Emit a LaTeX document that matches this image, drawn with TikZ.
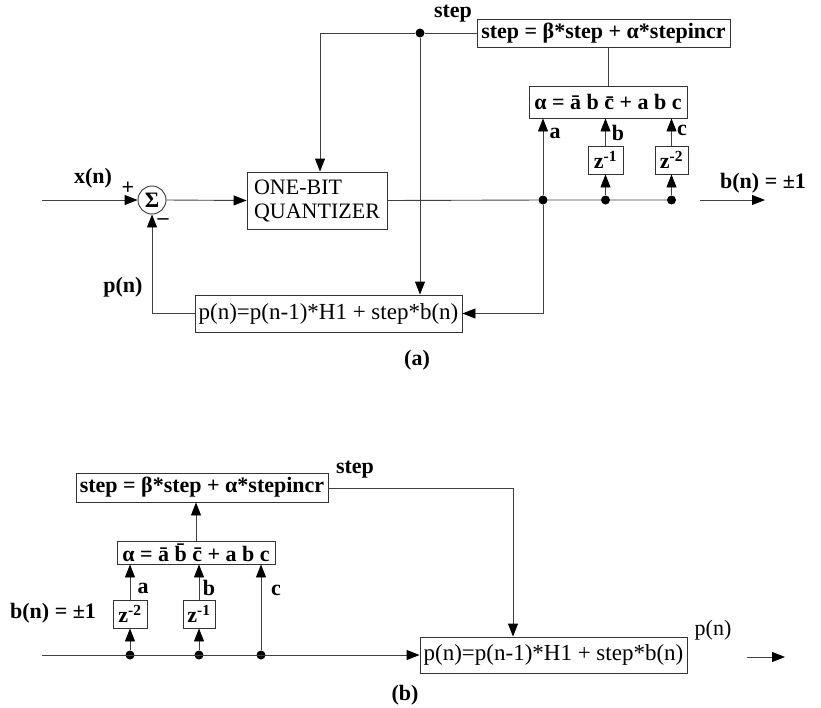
\documentclass[tikz,border=0pt]{standalone}
\usepackage{fontspec}
\setmainfont{Liberation Serif}
\usetikzlibrary{arrows.meta}
\newcommand{\fs}{\fontsize{22}{24}\selectfont}
\newcommand{\fsp}{\fontsize{23}{25}\selectfont}
\begin{document}
\begin{tikzpicture}[x=1pt,y=-1pt,
  line/.style={draw=black!75, line width=0.9pt},
  arr/.style={line, -{Triangle[length=13pt,width=10pt,color=black]}},
  blk/.style={draw=black!80, line width=0.9pt, inner sep=0pt},
  dot/.style={circle, fill=black, inner sep=0pt, minimum size=9pt},
  lbl/.style={font=\fs\bfseries, inner sep=0pt},
  rlbl/.style={font=\fs, inner sep=0pt}]
\useasboundingbox (0,0) rectangle (821,707);

% ---------------- (a) ----------------
\node[blk, minimum width=253pt, minimum height=28pt, font=\fs\bfseries] (sa) at (603.5,33) {step = β*step + α*stepincr};
\node[blk, minimum width=140pt, minimum height=57pt, font=\fs, align=left] (q) at (317,200.5) {ONE-BIT\\QUANTIZER};
\node[blk, minimum width=158pt, minimum height=32pt, font=\fs\bfseries] (al) at (608,102) {α = \=a b \=c + a b c};
\node[blk, minimum width=35pt, minimum height=28pt, font=\fs\bfseries] (z1) at (605.5,160) {z\textsuperscript{-1}};
\node[blk, minimum width=33pt, minimum height=28pt, font=\fs\bfseries] (z2) at (671.5,160) {z\textsuperscript{-2}};
\node[blk, minimum width=267pt, minimum height=37pt, font=\fsp] (pa) at (328.5,313.5) {p(n)=p(n-1)*H1 + step*b(n)};
\node[blk, circle, minimum size=28pt, font=\fs\bfseries] (sg) at (152,200) {Σ};

\node[dot] (dA) at (420,33) {};
\node[dot] (d1) at (543,200) {};
\node[dot] (d2) at (605.5,200) {};
\node[dot] (d3) at (671.5,200) {};

\coordinate (ka) at (320,33);
\coordinate (kb) at (543,313.5);
\coordinate (kc) at (152,313.5);
\coordinate (xin) at (42,200);
\coordinate (o1) at (700,200);
\coordinate (o2) at (765,200);

\draw[line] (dA) -- (sa.west);
\draw[arr] (dA) -- (ka) -- (ka |- q.north);
\draw[arr] (dA) -- (dA |- pa.north);
\draw[line] (al.north |- sa.south) -- (al.north);
\draw[line] (q.east) -- (d1) -- (d2) -- (d3);
\draw[arr] (o1) -- (o2);
\draw[arr] (d1) -- (d1 |- al.south);
\draw[arr] (d2) -- (z1.south);
\draw[arr] (z1.north) -- (z1.north |- al.south);
\draw[arr] (d3) -- (z2.south);
\draw[arr] (z2.north) -- (z2.north |- al.south);
\draw[arr] (d1) -- (kb) -- (pa.east);
\draw[arr] (pa.west) -- (kc) -- (sg.south);
\draw[arr] (xin) -- (sg.west);
\draw[arr] (sg.east) -- (q.west);

\node[lbl] (la) at (555,133) {a};
\node[lbl] (lb) at (618,133) {b};
\node[lbl] (lc) at (682,130) {c};
\node[lbl] (lbn) at (763,183) {b(n) = ±1};
\node[lbl] (lx) at (93,178) {x(n)};
\node[lbl] (lplus) at (128,188) {+};
\node[lbl] (lminus) at (163,222) {–};
\node[lbl] (lp) at (123,287) {p(n)};
\node[lbl] (lstep) at (453,14) {step};
\node[lbl] (capa) at (417,360) {(a)};

% ---------------- (b) ----------------
\node[blk, minimum width=252pt, minimum height=29pt, font=\fs\bfseries] (sb) at (202,487.5) {step = β*step + α*stepincr};
\node[blk, minimum width=158pt, minimum height=23pt, font=\fs\bfseries] (ab) at (196,552.5) {α = \=a \=b \=c + a b c};
\node[blk, minimum width=34pt, minimum height=28pt, font=\fs\bfseries] (y2) at (130,614) {z\textsuperscript{-2}};
\node[blk, minimum width=32pt, minimum height=28pt, font=\fs\bfseries] (y1) at (199,614) {z\textsuperscript{-1}};
\node[blk, minimum width=267pt, minimum height=36pt, font=\fsp] (pb) at (553.5,655) {p(n)=p(n-1)*H1 + step*b(n)};

\node[dot] (e1) at (130,655) {};
\node[dot] (e2) at (199,655) {};
\node[dot] (e3) at (261,655) {};

\coordinate (kd) at (513,488);
\coordinate (bin) at (42,655);
\coordinate (p1) at (747,657);
\coordinate (p2) at (785,657);

\draw[arr] (sb.east |- kd) -- (kd) -- (kd |- pb.north);
\draw[arr] (ab.north) -- (ab.north |- sb.south);
\draw[arr] (bin) -- (pb.west);
\draw[arr] (e1) -- (y2.south);
\draw[arr] (y2.north) -- (y2.north |- ab.south);
\draw[arr] (e2) -- (y1.south);
\draw[arr] (y1.north) -- (y1.north |- ab.south);
\draw[arr] (e3) -- (e3 |- ab.south);
\draw[arr] (p1) -- (p2);

\node[lbl] (la2) at (143,588) {a};
\node[lbl] (lb2) at (209,588) {b};
\node[lbl] (lc2) at (276,590) {c};
\node[lbl] (lbn2) at (53,613) {b(n) = ±1};
\node[lbl] (lstep2) at (355,470) {step};
\node[rlbl] (lp2) at (713,630) {p(n)};
\node[lbl] (capb) at (405,695) {(b)};
\end{tikzpicture}
\end{document}
